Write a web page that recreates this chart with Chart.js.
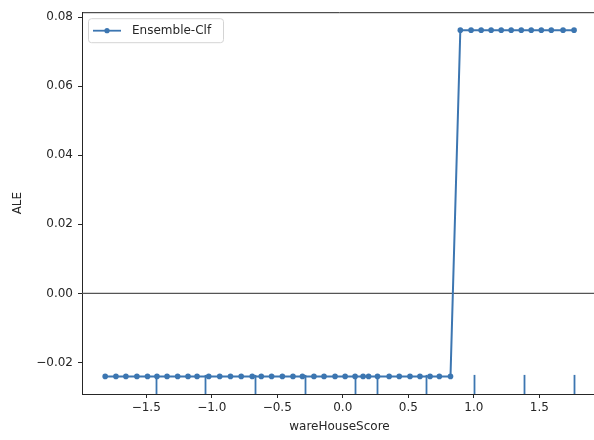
<!DOCTYPE html>
<html>
<head>
<meta charset="utf-8">
<script src="https://cdn.jsdelivr.net/npm/chart.js@4/dist/chart.umd.min.js"></script>
<style>
  html, body { margin: 0; padding: 0; overflow: hidden; background: #fff; }
  #wrap { width: 610px; height: 440px; }
</style>
</head>
<body>
<div id="wrap"><canvas id="ale" width="610" height="440"></canvas></div>
<script>
// ALE curve for wareHouseScore
const seriesName = 'Ensemble-Clf';
const aleX = [
  -1.813, -1.731, -1.655, -1.571, -1.490, -1.418, -1.341, -1.260, -1.181, -1.112,
  -1.023, -0.939, -0.857, -0.775, -0.691, -0.622, -0.543, -0.461, -0.380, -0.308,
  -0.220, -0.143, -0.059, 0.018, 0.094, 0.155, 0.197, 0.265, 0.354, 0.431,
  0.513, 0.589, 0.666, 0.737, 0.822,
  0.897, 0.979, 1.056, 1.132, 1.209, 1.285, 1.362, 1.438, 1.515, 1.591, 1.681, 1.765
];
const aleY = [
  -0.024, -0.024, -0.024, -0.024, -0.024, -0.024, -0.024, -0.024, -0.024, -0.024,
  -0.024, -0.024, -0.024, -0.024, -0.024, -0.024, -0.024, -0.024, -0.024, -0.024,
  -0.024, -0.024, -0.024, -0.024, -0.024, -0.024, -0.024, -0.024, -0.024, -0.024,
  -0.024, -0.024, -0.024, -0.024, -0.024,
  0.0762, 0.0762, 0.0762, 0.0762, 0.0762, 0.0762, 0.0762, 0.0762, 0.0762, 0.0762, 0.0762, 0.0762
];
// decile positions of the feature (rug)
const rugX = [-1.423, -1.048, -0.673, -0.291, 0.092, 0.258, 0.635, 1.0, 1.38, 1.762];
const xTicks = [-1.5, -1.0, -0.5, 0.0, 0.5, 1.0, 1.5];
const yTicks = [-0.02, 0.0, 0.02, 0.04, 0.06, 0.08];

const blue = '#3c76b1';
const ink = '#262626';
const font = { family: 'DejaVu Sans', size: 12 };

const alePlugin = {
    id: 'aleDecor',
    beforeDatasetsDraw: function (chart) {
        const ctx = chart.ctx;
        const a = chart.chartArea;
        const x = chart.scales.x, y = chart.scales.y;
        ctx.save();
        // zero reference line
        const y0 = y.getPixelForValue(0);
        ctx.strokeStyle = '#555';
        ctx.lineWidth = 1.2;
        ctx.beginPath();
        ctx.moveTo(a.left, y0);
        ctx.lineTo(a.right, y0);
        ctx.stroke();
        // rug ticks along the bottom
        const rugH = (a.bottom - a.top) * 0.05;
        ctx.strokeStyle = blue;
        ctx.lineWidth = 1.8;
        rugX.forEach(function (v) {
            const px = Math.round(x.getPixelForValue(v)) + 0.5;
            ctx.beginPath();
            ctx.moveTo(px, a.bottom);
            ctx.lineTo(px, a.bottom - rugH);
            ctx.stroke();
        });
        ctx.restore();
    },
    afterDraw: function (chart) {
        const ctx = chart.ctx;
        const a = chart.chartArea;
        ctx.save();
        // top spine
        ctx.strokeStyle = ink;
        ctx.lineWidth = 1;
        ctx.beginPath();
        ctx.moveTo(a.left, a.top + 0.5);
        ctx.lineTo(a.right, a.top + 0.5);
        ctx.stroke();

        // legend box
        const lx = a.left + 6, ly = a.top + 6, lw = 135, lh = 24;
        ctx.fillStyle = 'rgba(255,255,255,0.8)';
        ctx.strokeStyle = '#d4d4d4';
        ctx.beginPath();
        ctx.roundRect(lx + 0.5, ly + 0.5, lw, lh, 3);
        ctx.fill();
        ctx.stroke();
        const my = ly + lh / 2 + 0.5;
        ctx.strokeStyle = blue;
        ctx.lineWidth = 1.8;
        ctx.beginPath();
        ctx.moveTo(lx + 5, my);
        ctx.lineTo(lx + 33, my);
        ctx.stroke();
        ctx.fillStyle = blue;
        ctx.beginPath();
        ctx.arc(lx + 19, my, 2.6, 0, Math.PI * 2);
        ctx.fill();
        ctx.fillStyle = ink;
        ctx.font = '12px "DejaVu Sans"';
        ctx.textBaseline = 'middle';
        ctx.fillText(seriesName, lx + 44, my);
        ctx.restore();
    }
};

new Chart(document.getElementById('ale'), {
    type: 'scatter',
    data: {
        datasets: [{
            label: seriesName,
            data: aleX.map(function (v, i) { return { x: v, y: aleY[i] }; }),
            showLine: true,
            borderColor: blue,
            backgroundColor: blue,
            borderWidth: 2,
            pointRadius: 2.8,
            pointBorderWidth: 0,
            pointHoverRadius: 2.8,
            tension: 0
        }]
    },
    options: {
        responsive: false,
        animation: false,
        devicePixelRatio: 1,
        layout: { padding: { left: 0, top: 8, right: 13, bottom: 0 } },
        plugins: { legend: { display: false }, tooltip: { enabled: false } },
        scales: {
            x: {
                type: 'linear',
                min: -1.99,
                max: 1.94,
                afterBuildTicks: function (s) { s.ticks = xTicks.map(function (v) { return { value: v }; }); },
                afterFit: function (s) { s.height = 46; },
                grid: { drawOnChartArea: false, color: ink, tickLength: 4, tickWidth: 1 },
                border: { display: true, color: ink, width: 1 },
                ticks: {
                    color: ink, font: font, padding: 3, maxRotation: 0,
                    callback: function (v) { return (v < 0 ? '\u2212' : '') + Math.abs(v).toFixed(1); }
                },
                title: { display: true, text: 'wareHouseScore', color: ink, font: font, padding: { top: 0, bottom: 6 } }
            },
            y: {
                min: -0.0291,
                max: 0.0814,
                afterBuildTicks: function (s) { s.ticks = yTicks.map(function (v) { return { value: v }; }); },
                afterFit: function (s) { s.width = 82; },
                grid: { drawOnChartArea: false, color: ink, tickLength: 4, tickWidth: 1 },
                border: { display: true, color: ink, width: 1 },
                ticks: {
                    color: ink, font: font, padding: 5,
                    callback: function (v) { return (v < 0 ? '\u2212' : '') + Math.abs(v).toFixed(2); }
                },
                title: { display: true, text: 'ALE', color: ink, font: font, padding: { top: 11, bottom: 0 } }
            }
        }
    },
    plugins: [alePlugin]
});
</script>
</body>
</html>
